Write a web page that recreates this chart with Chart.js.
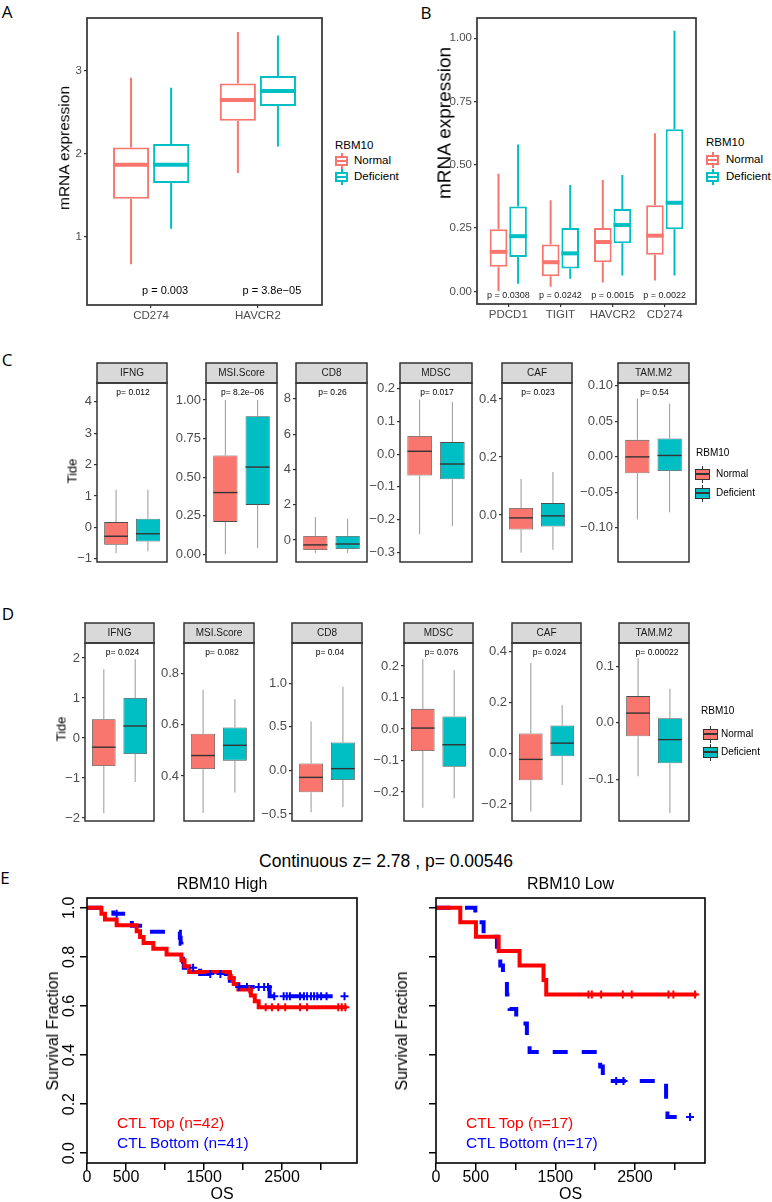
<!DOCTYPE html>
<html>
<head>
<meta charset="utf-8">
<script src="https://cdn.jsdelivr.net/npm/chart.js@4"></script>
<style>
    body { margin: 0; width: 772px; height: 1202px; position: relative; overflow: hidden; background: #FFFFFF;
           font-family: "Liberation Sans", Arial, Helvetica, sans-serif; }
    canvas { position: absolute; }
    .t { position: absolute; white-space: nowrap; line-height: 1; }
</style>
</head>
<body>
<script>
// ============================================
// DATOS
// ============================================

const groups = ['Normal', 'Deficient'];
const groupColors = ['#F8766D', '#00BFC4'];

// each box: [whisker low, Q1, median, Q3, whisker high]

// Panel A
const genesA = ['CD274', 'HAVCR2'];
const normalA = [[0.67, 1.46, 1.87, 2.08, 2.92], [1.77, 2.40, 2.65, 2.85, 3.47]];
const deficientA = [[1.10, 1.65, 1.87, 2.12, 2.80], [2.09, 2.58, 2.76, 2.94, 3.43]];
const pValuesA = ['p = 0.003', 'p = 3.8e\u221205'];
const yRangeA = [0.18, 3.64];
const yTicksA = [1, 2, 3];
const yTickLabelsA = ['1', '2', '3'];

// Panel B
const genesB = ['PDCD1', 'TIGIT', 'HAVCR2', 'CD274'];
const normalB = [[0.0, 0.097, 0.156, 0.245, 0.465], [0.018, 0.06, 0.115, 0.185, 0.36],
                 [0.035, 0.115, 0.195, 0.25, 0.44], [0.043, 0.145, 0.22, 0.34, 0.625]];
const deficientB = [[0.03, 0.136, 0.218, 0.335, 0.58], [0.05, 0.09, 0.15, 0.25, 0.42],
                    [0.063, 0.19, 0.262, 0.325, 0.46], [0.063, 0.245, 0.35, 0.64, 1.03]];
const pValuesB = ['p = 0.0308', 'p = 0.0242', 'p = 0.0015', 'p = 0.0022'];
const yRangeB = [-0.05, 1.08];
const yTicksB = [0, 0.25, 0.5, 0.75, 1];
const yTickLabelsB = ['0.00', '0.25', '0.50', '0.75', '1.00'];

// Panels C and D (TIDE signatures)
const signatures = ['IFNG', 'MSI.Score', 'CD8', 'MDSC', 'CAF', 'TAM.M2'];

const normalC = [
    [-0.82, -0.55, -0.28, 0.17, 1.2],
    [0.0, 0.21, 0.40, 0.64, 1.0],
    [-0.74, -0.57, -0.28, 0.23, 1.3],
    [-0.245, -0.065, 0.009, 0.056, 0.167],
    [-0.13, -0.05, -0.01, 0.024, 0.124],
    [-0.088, -0.023, 0.0, 0.024, 0.082]
];
const deficientC = [
    [-0.76, -0.45, -0.2, 0.28, 1.2],
    [0.04, 0.32, 0.565, 0.895, 1.0],
    [-0.74, -0.51, -0.23, 0.23, 1.2],
    [-0.22, -0.077, -0.03, 0.037, 0.16],
    [-0.12, -0.04, -0.003, 0.041, 0.148],
    [-0.078, -0.02, 0.002, 0.026, 0.075]
];
const pValuesC = ['p= 0.012', 'p= 8.2e\u221206', 'p= 0.26', 'p= 0.017', 'p= 0.023', 'p= 0.54'];
const yRangesC = [[-1.1, 4.6], [-0.05, 1.11], [-1.25, 8.9], [-0.33, 0.218], [-0.162, 0.455], [-0.148, 0.104]];
const yTicksC = [[-1, 0, 1, 2, 3, 4], [0, 0.25, 0.5, 0.75, 1], [0, 2, 4, 6, 8],
                 [-0.3, -0.2, -0.1, 0, 0.1, 0.2], [0, 0.2, 0.4], [-0.1, -0.05, 0, 0.05, 0.1]];
const yTickLabelsC = [['\u22121', '0', '1', '2', '3', '4'], ['0.00', '0.25', '0.50', '0.75', '1.00'],
                      ['0', '2', '4', '6', '8'], ['\u22120.3', '\u22120.2', '\u22120.1', '0.0', '0.1', '0.2'],
                      ['0.0', '0.2', '0.4'], ['\u22120.10', '\u22120.05', '0.00', '0.05', '0.10']];

const normalD = [
    [-1.88, -0.7, -0.23, 0.47, 1.72],
    [0.255, 0.427, 0.48, 0.565, 0.737],
    [-0.48, -0.25, -0.08, 0.08, 0.56],
    [-0.25, -0.07, 0.003, 0.064, 0.222],
    [-0.23, -0.106, -0.024, 0.078, 0.357],
    [-0.095, -0.024, 0.017, 0.047, 0.114]
];
const deficientD = [
    [-1.1, -0.4, 0.3, 1.0, 1.97],
    [0.335, 0.46, 0.52, 0.59, 0.70],
    [-0.42, -0.11, 0.02, 0.32, 0.96],
    [-0.22, -0.12, -0.05, 0.04, 0.187],
    [-0.125, -0.012, 0.04, 0.11, 0.19],
    [-0.16, -0.072, -0.03, 0.008, 0.06]
];
const pValuesD = ['p= 0.024', 'p= 0.082', 'p= 0.04', 'p= 0.076', 'p= 0.024', 'p= 0.00022'];
const yRangesD = [[-2.075, 2.375], [0.224, 0.92], [-0.58, 1.46], [-0.292, 0.273], [-0.267, 0.435], [-0.174, 0.141]];
const yTicksD = [[-2, -1, 0, 1, 2], [0.4, 0.6, 0.8], [-0.5, 0, 0.5, 1], [-0.2, -0.1, 0, 0.1, 0.2],
                 [-0.2, 0, 0.2, 0.4], [-0.1, 0, 0.1]];
const yTickLabelsD = [['\u22122', '\u22121', '0', '1', '2'], ['0.4', '0.6', '0.8'], ['\u22120.5', '0.0', '0.5', '1.0'],
                      ['\u22120.2', '\u22120.1', '0.0', '0.1', '0.2'], ['\u22120.2', '0.0', '0.2', '0.4'],
                      ['\u22120.1', '0.0', '0.1']];

// Panel E (Kaplan-Meier)
const kmTicksX = [0, 500, 1000, 1500, 2000, 2500, 3000];
const kmTickLabelsX = ['0', '500', '', '1500', '', '2500', ''];
const kmTicksY = [0, 0.2, 0.4, 0.6, 0.8, 1.0];
const kmTickLabelsY = ['0.0', '0.2', '0.4', '0.6', '0.8', '1.0'];
const kmXMax = [3460, 3380];

const highTopTime = [0, 185, 230, 380, 637, 680, 725, 850, 1020, 1210, 1250, 1310, 1830, 1880, 1940, 2100, 2150, 2200, 3330];
const highTopSurv = [1, 0.976, 0.952, 0.929, 0.905, 0.881, 0.857, 0.833, 0.810, 0.786, 0.762, 0.738, 0.714, 0.690, 0.667, 0.643, 0.619, 0.595, 0.595];
const highTopCensorTime = [1855, 2080, 2290, 2370, 2450, 2540, 2730, 2820, 3220, 3265, 3310];
const highTopCensorSurv = [0.714, 0.667, 0.595, 0.595, 0.595, 0.595, 0.595, 0.595, 0.595, 0.595, 0.595];

const highBottomTime = [0, 338, 530, 575, 786, 1190, 1200, 1210, 1220, 1230, 1240, 1450, 1830, 1890, 2340, 3300];
const highBottomSurv = [1, 0.976, 0.951, 0.927, 0.902, 0.878, 0.854, 0.829, 0.805, 0.780, 0.756, 0.730, 0.703, 0.677, 0.640, 0.640];
const highBottomCensorTime = [380, 1360, 1580, 1710, 1950, 2050, 2200, 2270, 2320, 2400, 2520, 2560, 2600, 2730, 2780, 2820, 2870, 2910, 2950, 3000, 3070, 3300];
const highBottomCensorSurv = [0.976, 0.756, 0.730, 0.730, 0.677, 0.677, 0.677, 0.677, 0.677, 0.640, 0.640, 0.640, 0.640, 0.640, 0.640, 0.640, 0.640, 0.640, 0.640, 0.640, 0.640, 0.640];

const lowTopTime = [0, 305, 502, 787, 1050, 1351, 1385, 3276];
const lowTopSurv = [1, 0.941, 0.882, 0.824, 0.765, 0.706, 0.647, 0.647];
const lowTopCensorTime = [1916, 1958, 2075, 2347, 2460, 2921, 2983, 3255];
const lowTopCensorSurv = [0.647, 0.647, 0.647, 0.647, 0.647, 0.647, 0.647, 0.647];

const lowBottomTime = [0, 494, 598, 766, 808, 841, 891, 925, 1008, 1142, 1176, 2063, 2096, 2891, 2908, 3192];
const lowBottomSurv = [1, 0.941, 0.882, 0.824, 0.765, 0.706, 0.647, 0.588, 0.529, 0.471, 0.412, 0.353, 0.294, 0.221, 0.147, 0.147];
const lowBottomCensorTime = [2264, 2356, 3192];
const lowBottomCensorSurv = [0.294, 0.294, 0.147];

// ============================================
// LAYOUT (plot frames in page pixels)
// ============================================

const FRAME_A = {x0: 87, y0: 18, x1: 322, y1: 305};
const FRAME_B = {x0: 477, y0: 18, x1: 696, y1: 304};
const FACETS_C = {y0: 383, y1: 562, xs: [[97, 167], [206, 277], [296, 367], [400, 472], [502, 572], [618, 689]]};
const FACETS_D = {y0: 643, y1: 821, xs: [[85, 154], [184, 254], [292, 362], [404, 473], [512, 581], [619, 689]]};
const FRAMES_E = [{x0: 87, y0: 898, x1: 357, y1: 1163}, {x0: 436, y0: 898, x1: 705, y1: 1163}];

const FONT = '"Liberation Sans", Arial, Helvetica, sans-serif';
Chart.defaults.font.family = FONT;
Chart.defaults.animation = false;
Chart.defaults.responsive = false;
Chart.defaults.events = [];
Chart.defaults.plugins.legend.display = false;
Chart.defaults.plugins.tooltip.enabled = false;

// ============================================
// PLUGINS
// ============================================

// whiskers and medians on top of the floating bars (boxes)
const boxPlugin = {
    id: 'boxes',
    afterDatasetsDraw(chart, args, opts) {
        const ctx = chart.ctx;
        const y = chart.scales.y;
        chart.data.datasets.forEach((ds, di) => {
            if (!ds.stats) return;
            chart.getDatasetMeta(di).data.forEach((bar, i) => {
                const [lo, q1, med, q3, hi] = ds.stats[i];
                const col = Array.isArray(ds.borderColor) ? ds.borderColor[i] : ds.borderColor;
                const half = bar.width / 2;
                ctx.save();
                ctx.lineCap = 'butt';
                ctx.strokeStyle = opts.whiskerColor || col;
                ctx.lineWidth = opts.whiskerWidth;
                ctx.beginPath();
                ctx.moveTo(bar.x, y.getPixelForValue(hi));
                ctx.lineTo(bar.x, y.getPixelForValue(q3));
                ctx.moveTo(bar.x, y.getPixelForValue(q1));
                ctx.lineTo(bar.x, y.getPixelForValue(lo));
                ctx.stroke();
                const ym = y.getPixelForValue(med);
                ctx.strokeStyle = opts.medianColor || col;
                ctx.lineWidth = opts.medianWidth;
                ctx.beginPath();
                ctx.moveTo(bar.x - half, ym);
                ctx.lineTo(bar.x + half, ym);
                ctx.stroke();
                ctx.restore();
            });
        });
    }
};

// panel border (and facet strip)
const framePlugin = {
    id: 'frame',
    afterDraw(chart, args, opts) {
        const {left, top, right, bottom} = chart.chartArea;
        const ctx = chart.ctx;
        ctx.save();
        ctx.lineWidth = opts.width;
        ctx.strokeStyle = opts.color;
        if (opts.strip) {
            ctx.fillStyle = '#D9D9D9';
            ctx.fillRect(left, top - opts.strip, right - left, opts.strip);
            ctx.strokeRect(left, top - opts.strip, right - left, opts.strip);
        }
        ctx.strokeRect(left, top, right - left, bottom - top);
        ctx.restore();
    }
};

// R style vertical y tick labels
const rotatedTicksPlugin = {
    id: 'rotTicks',
    afterDraw(chart, args, opts) {
        if (!opts.labels) return;
        const ctx = chart.ctx;
        const y = chart.scales.y;
        ctx.save();
        ctx.fillStyle = '#000000';
        ctx.font = opts.size + 'px ' + FONT;
        ctx.textAlign = 'center';
        ctx.textBaseline = 'middle';
        y.ticks.forEach((t, i) => {
            ctx.save();
            ctx.translate(opts.x, y.getPixelForValue(t.value));
            ctx.rotate(-Math.PI / 2);
            ctx.fillText(opts.labels[i], 0, 0);
            ctx.restore();
        });
        ctx.restore();
    }
};

// ============================================
// UTILIDADES
// ============================================

function makeCanvas(f, pad) {
    const c = document.createElement('canvas');
    const left = f.x0 - pad.l, top = f.y0 - pad.t;
    const w = f.x1 + pad.r - left, h = f.y1 + pad.b - top;
    c.width = w;
    c.height = h;
    c.style.left = left + 'px';
    c.style.top = top + 'px';
    c.style.width = w + 'px';
    c.style.height = h + 'px';
    document.body.appendChild(c);
    return c;
}

function addText(txt, x, y, size, opts = {}) {
    const d = document.createElement('div');
    d.className = 't';
    d.textContent = txt;
    d.style.left = x + 'px';
    d.style.top = y + 'px';
    d.style.fontSize = size + 'px';
    d.style.color = opts.color || '#000000';
    if (opts.family) d.style.fontFamily = opts.family;
    const ax = opts.align === 'left' ? '0' : '-50%';
    d.style.transform = `translate(${ax}, -50%)` + (opts.rotate ? ` rotate(${opts.rotate}deg)` : '');
    document.body.appendChild(d);
}

function addRect(x, y, w, h, css) {
    const d = document.createElement('div');
    d.style.cssText = `position:absolute;left:${x}px;top:${y}px;width:${w}px;height:${h}px;box-sizing:border-box;${css}`;
    document.body.appendChild(d);
}

function addKey(x, cy, color, filled) {
    const w = filled ? 15 : 13, h = filled ? 11 : 10, lw = filled ? 1 : 2;
    const line = filled ? '#333333' : color;
    addRect(x + w / 2 - lw / 2, cy - h / 2 - 3, lw, h + 6, `background:${line}`);
    addRect(x, cy - h / 2, w, h, `background:${filled ? color : '#FFFFFF'};border:${lw}px solid ${line}`);
    addRect(x, cy - 1, w, 2, `background:${line}`);
}

function yAxis(range, ticks, labels, width, size) {
    return {
        min: range[0], max: range[1],
        afterBuildTicks: s => { s.ticks = ticks.map(v => ({value: v})); },
        afterFit: s => { s.width = width; s.paddingTop = 0; s.paddingBottom = 0; },
        ticks: {callback: (v, i) => labels[i], color: '#4D4D4D', font: {size: size}, padding: 2, autoSkip: false},
        grid: {drawOnChartArea: false, tickLength: 3, color: '#333333', lineWidth: 1.2},
        border: {display: false}
    };
}

// ============================================
// GRAFICOS A / B: boxplots por gen
// ============================================

function expressionChart(frame, genes, normal, deficient, yRange, yTicks, yLabels) {
    const pad = {l: 60, t: 10, r: 10, b: 24};
    const canvas = makeCanvas(frame, pad);
    const toBars = stats => stats.map((s, i) => ({x: i + 1, y: [s[1], s[3]]}));
    const series = [normal, deficient];
    return new Chart(canvas, {
        type: 'bar',
        data: {
            datasets: series.map((stats, g) => ({
                label: groups[g],
                data: toBars(stats),
                stats: stats,
                borderColor: groupColors[g],
                backgroundColor: '#FFFFFF',
                borderWidth: 2,
                borderSkipped: false,
                categoryPercentage: 0.75,
                barPercentage: 0.9
            }))
        },
        options: {
            layout: {autoPadding: false, padding: {left: 0, top: pad.t, right: pad.r, bottom: 0}},
            plugins: {
                boxes: {whiskerWidth: 2, medianWidth: 4},
                frame: {color: '#333333', width: 1.7}
            },
            scales: {
                x: {
                    type: 'linear', offset: false, min: 0.4, max: genes.length + 0.6,
                    afterBuildTicks: s => { s.ticks = genes.map((g, i) => ({value: i + 1})); },
                    afterFit: s => { s.height = pad.b; s.paddingLeft = 0; s.paddingRight = 0; },
                    ticks: {callback: (v, i) => genes[i], color: '#4D4D4D', font: {size: 11.5}, padding: 1, maxRotation: 0, autoSkip: false},
                    grid: {offset: false, drawOnChartArea: false, tickLength: 3, color: '#333333', lineWidth: 1.2},
                    border: {display: false}
                },
                y: yAxis(yRange, yTicks, yLabels, pad.l, 11.5)
            }
        },
        plugins: [boxPlugin, framePlugin]
    });
}

// ============================================
// GRAFICOS C / D: facetas TIDE
// ============================================

function facetChart(frame, normal, deficient, yRange, yTicks, yLabels) {
    const pad = {l: 45, t: 22, r: 2, b: 2};
    const canvas = makeCanvas(frame, pad);
    return new Chart(canvas, {
        type: 'bar',
        data: {
            datasets: [{
                data: [{x: 1, y: [normal[1], normal[3]]}, {x: 2, y: [deficient[1], deficient[3]]}],
                stats: [normal, deficient],
                backgroundColor: groupColors,
                borderColor: '#4D4D4D',
                borderWidth: 0.8,
                borderSkipped: false,
                categoryPercentage: 0.75,
                barPercentage: 1
            }]
        },
        options: {
            layout: {autoPadding: false, padding: {left: 0, top: pad.t, right: pad.r, bottom: pad.b}},
            plugins: {
                boxes: {whiskerWidth: 0.8, medianWidth: 1.4, whiskerColor: '#7F7F7F', medianColor: '#333333'},
                frame: {color: '#333333', width: 1.5, strip: 20}
            },
            scales: {
                x: {
                    type: 'linear', display: false, offset: false, min: 0.4, max: 2.6,
                    afterBuildTicks: s => { s.ticks = [{value: 1}, {value: 2}]; }
                },
                y: yAxis(yRange, yTicks, yLabels, pad.l, 13)
            }
        },
        plugins: [boxPlugin, framePlugin]
    });
}

function drawFacetRow(facets, normal, deficient, ranges, ticks, labels, pValues, pShift) {
    facets.xs.forEach((xs, i) => {
        const frame = {x0: xs[0], y0: facets.y0, x1: xs[1], y1: facets.y1};
        facetChart(frame, normal[i], deficient[i], ranges[i], ticks[i], labels[i]);
        const cx = (xs[0] + xs[1]) / 2;
        addText(signatures[i], cx, facets.y0 - 10, 10, {color: '#1A1A1A'});
        addText(pValues[i], cx + pShift, facets.y0 + 9, 8.5);
    });
}

// ============================================
// GRAFICO E: Kaplan-Meier
// ============================================

function survivalChart(frame, xMax, curves) {
    const pad = {l: 40, t: 8, r: 8, b: 35};
    const canvas = makeCanvas(frame, pad);
    const pts = (ts, ss) => ts.map((t, i) => ({x: t, y: ss[i]}));
    const censors = curves.map(cv => ({
        data: pts(cv.censorTime, cv.censorSurv),
        showLine: false,
        pointStyle: 'cross',
        pointRadius: 4,
        pointBorderWidth: 2,
        pointBorderColor: cv.color,
        borderColor: cv.color
    }));
    const lines = curves.map(cv => ({
        data: pts(cv.time, cv.surv),
        borderColor: cv.color,
        borderWidth: 4,
        borderDash: cv.dash,
        stepped: 'before',
        pointRadius: 0,
        fill: false
    }));
    return new Chart(canvas, {
        type: 'line',
        data: {datasets: censors.concat(lines)},
        options: {
            layout: {autoPadding: false, padding: {left: 0, top: pad.t, right: pad.r, bottom: 0}},
            plugins: {
                frame: {color: '#000000', width: 1.6},
                rotTicks: {labels: kmTickLabelsY, x: 70 - (frame.x0 - pad.l), size: 16}
            },
            scales: {
                x: {
                    type: 'linear', offset: false, min: 0, max: xMax,
                    afterBuildTicks: s => { s.ticks = kmTicksX.map(v => ({value: v})); },
                    afterFit: s => { s.height = pad.b; s.paddingLeft = 0; s.paddingRight = 0; },
                    ticks: {callback: (v, i) => kmTickLabelsX[i], color: '#000000', font: {size: 16}, padding: -2, maxRotation: 0, autoSkip: false},
                    grid: {drawOnChartArea: false, tickLength: 7, color: '#000000', lineWidth: 1.5},
                    border: {display: false}
                },
                y: {
                    min: -0.04, max: 1.04,
                    afterBuildTicks: s => { s.ticks = kmTicksY.map(v => ({value: v})); },
                    afterFit: s => { s.width = pad.l; s.paddingTop = 0; s.paddingBottom = 0; },
                    ticks: {display: false},
                    grid: {drawOnChartArea: false, tickLength: 7, color: '#000000', lineWidth: 1.5},
                    border: {display: false}
                }
            }
        },
        plugins: [framePlugin, rotatedTicksPlugin]
    });
}

// ============================================
// INICIALIZACION
// ============================================

function drawFigure() {
    const letterFont = '"Open Sans", "Noto Sans", sans-serif';
    addText('A', 7, 11, 17, {family: letterFont});
    addText('B', 426, 12, 17, {family: letterFont});
    addText('C', 7, 359, 17, {family: letterFont});
    addText('D', 8, 613, 17, {family: letterFont});
    addText('E', 5, 877, 17, {family: letterFont});

    // A
    const chartA = expressionChart(FRAME_A, genesA, normalA, deficientA, yRangeA, yTicksA, yTickLabelsA);
    const offA = parseFloat(chartA.canvas.style.left);
    pValuesA.forEach((p, i) => addText(p, offA + chartA.scales.x.getPixelForValue(i + 1) + 14, 290, 11));
    addText('mRNA expression', 64, 148, 15.5, {rotate: -90});
    addText('RBM10', 335, 146, 11.5, {align: 'left'});
    groups.forEach((g, i) => {
        addKey(335, 161 + 16 * i, groupColors[i], false);
        addText(g, 354, 161 + 16 * i, 11.5, {align: 'left'});
    });

    // B
    const chartB = expressionChart(FRAME_B, genesB, normalB, deficientB, yRangeB, yTicksB, yTickLabelsB);
    const offB = parseFloat(chartB.canvas.style.left);
    pValuesB.forEach((p, i) => addText(p, offB + chartB.scales.x.getPixelForValue(i + 1), 295, 9, {color: '#222222'}));
    addText('mRNA expression', 444, 123, 19, {rotate: -90});
    addText('RBM10', 706, 143, 11.5, {align: 'left'});
    groups.forEach((g, i) => {
        addKey(706, 160 + 17 * i, groupColors[i], false);
        addText(g, 726, 160 + 17 * i, 11.5, {align: 'left'});
    });

    // C
    drawFacetRow(FACETS_C, normalC, deficientC, yRangesC, yTicksC, yTickLabelsC, pValuesC, 1);
    addText('Tide', 72, 471, 13, {rotate: -90});
    addText('RBM10', 696, 453, 10, {align: 'left'});
    groups.forEach((g, i) => {
        addKey(695, 474 + 19 * i, groupColors[i], true);
        addText(g, 716, 474 + 19 * i, 10, {align: 'left'});
    });

    // D
    drawFacetRow(FACETS_D, normalD, deficientD, yRangesD, yTicksD, yTickLabelsD, pValuesD, 3);
    addText('Tide', 61, 729, 13, {rotate: -90});
    addText('RBM10', 701, 711, 10, {align: 'left'});
    groups.forEach((g, i) => {
        addKey(703, 734 + 18 * i, groupColors[i], true);
        addText(g, 721, 734 + 18 * i, 10, {align: 'left'});
    });

    // E
    addText('Continuous z= 2.78 , p= 0.00546', 386, 862, 17.5);
    const panelsE = [
        {title: 'RBM10 High', n: [42, 41], curves: [
            {time: highTopTime, surv: highTopSurv, censorTime: highTopCensorTime, censorSurv: highTopCensorSurv, color: '#FF0000', dash: []},
            {time: highBottomTime, surv: highBottomSurv, censorTime: highBottomCensorTime, censorSurv: highBottomCensorSurv, color: '#0000FF', dash: [15, 14]}
        ]},
        {title: 'RBM10 Low', n: [17, 17], curves: [
            {time: lowTopTime, surv: lowTopSurv, censorTime: lowTopCensorTime, censorSurv: lowTopCensorSurv, color: '#FF0000', dash: []},
            {time: lowBottomTime, surv: lowBottomSurv, censorTime: lowBottomCensorTime, censorSurv: lowBottomCensorSurv, color: '#0000FF', dash: [15, 14]}
        ]}
    ];
    panelsE.forEach((p, k) => {
        const f = FRAMES_E[k];
        survivalChart(f, kmXMax[k], p.curves);
        const cx = (f.x0 + f.x1) / 2;
        addText(p.title, cx, 884, 16);
        addText('OS', cx, 1194, 16);
        addText('Survival Fraction', f.x0 - 34, (f.y0 + f.y1) / 2, 16, {rotate: -90});
        addText(`CTL Top (n=${p.n[0]})`, f.x0 + 30, 1123, 15.5, {align: 'left', color: '#FF0000'});
        addText(`CTL Bottom (n=${p.n[1]})`, f.x0 + 30, 1143, 15.5, {align: 'left', color: '#0000FF'});
    });

    console.log('Figure drawn');
}

drawFigure();
</script>
</body>
</html>
